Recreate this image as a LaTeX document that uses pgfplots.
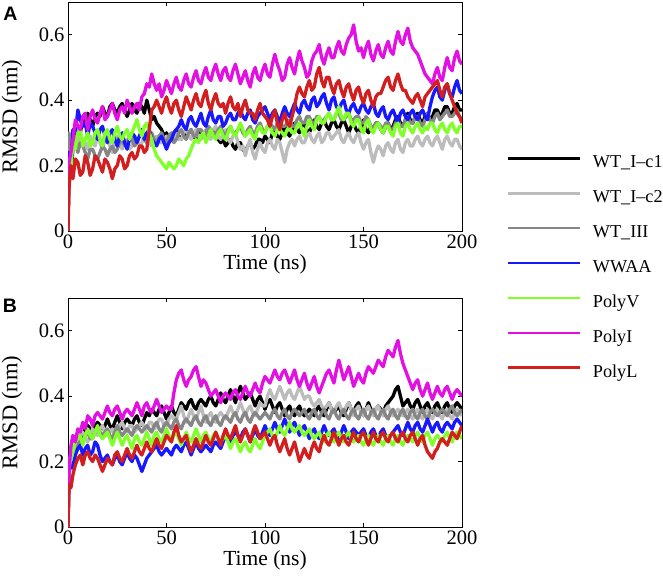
\documentclass[border=0pt]{standalone}
\usepackage{pgfplots}
\pgfplotsset{compat=1.18}
\usepackage{pgfplotstable}
\usepackage{fontspec}
\setmainfont{Liberation Serif}
\newfontfamily\panelfont{Liberation Sans}
\definecolor{cC1}{RGB}{0,0,0}
\definecolor{cC2}{RGB}{188,188,188}
\definecolor{cIII}{RGB}{134,134,134}
\definecolor{cWW}{RGB}{24,24,255}
\definecolor{cV}{RGB}{128,255,40}
\definecolor{cI}{RGB}{226,16,226}
\definecolor{cL}{RGB}{210,30,30}

\pgfplotstableread{
t c1 c2 iii ww v i l
0 0 0 0 0 0 0 0
0.5 0.21 0.29 0.30 0.24 0.22 0.21 0.13
1.5 0.18 0.26 0.27 0.20 0.19 0.24 0.20
2.5 0.25 0.30 0.28 0.31 0.27 0.28 0.16
3.75 0.31 0.25 0.29 0.30 0.25 0.34 0.22
5 0.29 0.26 0.24 0.37 0.30 0.32 0.21
6.25 0.30 0.29 0.27 0.34 0.31 0.31 0.17
7.5 0.34 0.28 0.26 0.32 0.26 0.35 0.18
8.75 0.32 0.27 0.24 0.33 0.28 0.36 0.23
10 0.36 0.25 0.22 0.29 0.30 0.31 0.21
11.25 0.34 0.29 0.25 0.33 0.26 0.35 0.17
12.5 0.32 0.27 0.25 0.32 0.27 0.37 0.19
13.75 0.35 0.26 0.23 0.30 0.30 0.34 0.23
15 0.36 0.29 0.22 0.28 0.31 0.33 0.22
16.25 0.35 0.27 0.24 0.31 0.28 0.36 0.20
17.5 0.38 0.25 0.26 0.32 0.26 0.38 0.18
18.75 0.36 0.28 0.25 0.29 0.30 0.34 0.22
20 0.35 0.28 0.23 0.27 0.31 0.35 0.21
21.25 0.38 0.26 0.25 0.30 0.28 0.37 0.19
22.5 0.39 0.24 0.26 0.31 0.27 0.39 0.16
23.75 0.37 0.27 0.24 0.28 0.30 0.36 0.19
25 0.36 0.29 0.25 0.26 0.32 0.34 0.20
26.25 0.38 0.27 0.27 0.29 0.29 0.37 0.23
27.5 0.39 0.25 0.28 0.30 0.28 0.38 0.22
28.75 0.37 0.27 0.26 0.27 0.30 0.36 0.19
30 0.35 0.28 0.27 0.25 0.31 0.40 0.20
31.25 0.37 0.25 0.29 0.28 0.28 0.38 0.23
32.5 0.39 0.26 0.28 0.30 0.30 0.36 0.24
33.75 0.37 0.29 0.26 0.29 0.32 0.38 0.22
35 0.36 0.28 0.27 0.27 0.34 0.39 0.23
36.25 0.39 0.26 0.29 0.29 0.31 0.37 0.26
37.5 0.38 0.27 0.30 0.31 0.29 0.41 0.26
38.75 0.36 0.29 0.28 0.28 0.32 0.42 0.24
40 0.40 0.29 0.27 0.30 0.33 0.45 0.25
41.25 0.37 0.27 0.29 0.31 0.30 0.44 0.31
42.5 0.34 0.26 0.30 0.28 0.28 0.48 0.37
43.75 0.35 0.28 0.28 0.27 0.25 0.45 0.38
45 0.33 0.29 0.27 0.26 0.23 0.43 0.40
46.25 0.32 0.27 0.29 0.28 0.22 0.45 0.38
47.5 0.31 0.27 0.30 0.29 0.21 0.41 0.36
48.75 0.29 0.28 0.28 0.27 0.20 0.43 0.39
50 0.30 0.29 0.27 0.25 0.19 0.46 0.41
51.25 0.28 0.27 0.29 0.27 0.21 0.44 0.38
52.5 0.29 0.28 0.30 0.28 0.20 0.42 0.36
53.75 0.30 0.29 0.27 0.30 0.19 0.45 0.39
55 0.31 0.30 0.28 0.31 0.20 0.47 0.40
56.25 0.29 0.28 0.30 0.32 0.22 0.44 0.37
57.5 0.28 0.28 0.31 0.34 0.21 0.43 0.35
58.75 0.30 0.30 0.29 0.32 0.20 0.46 0.38
60 0.29 0.31 0.28 0.31 0.22 0.48 0.41
61.25 0.30 0.29 0.30 0.34 0.23 0.45 0.39
62.5 0.31 0.28 0.31 0.35 0.25 0.44 0.37
63.75 0.29 0.30 0.29 0.33 0.27 0.47 0.40
65 0.28 0.31 0.29 0.32 0.28 0.49 0.42
66.25 0.31 0.29 0.31 0.34 0.27 0.46 0.39
67.5 0.30 0.28 0.31 0.36 0.29 0.45 0.38
68.75 0.29 0.30 0.29 0.33 0.30 0.48 0.41
70 0.28 0.31 0.30 0.32 0.27 0.50 0.43
71.25 0.30 0.29 0.32 0.35 0.29 0.47 0.39
72.5 0.29 0.28 0.31 0.37 0.31 0.46 0.37
73.75 0.31 0.31 0.30 0.34 0.29 0.49 0.40
75 0.30 0.32 0.29 0.33 0.28 0.51 0.42
76.25 0.28 0.29 0.31 0.35 0.30 0.48 0.39
77.5 0.27 0.28 0.32 0.35 0.31 0.46 0.38
78.75 0.28 0.30 0.30 0.32 0.29 0.49 0.39
80 0.26 0.31 0.29 0.33 0.28 0.50 0.36
81.25 0.27 0.28 0.31 0.35 0.30 0.47 0.39
82.5 0.28 0.27 0.32 0.36 0.32 0.46 0.41
83.75 0.26 0.29 0.30 0.34 0.30 0.49 0.38
85 0.25 0.30 0.30 0.34 0.29 0.51 0.37
86.25 0.27 0.27 0.31 0.36 0.31 0.48 0.39
87.5 0.27 0.25 0.32 0.37 0.33 0.45 0.35
88.75 0.25 0.26 0.30 0.35 0.31 0.47 0.38
90 0.24 0.23 0.29 0.34 0.29 0.49 0.40
91.25 0.26 0.26 0.31 0.36 0.30 0.46 0.37
92.5 0.27 0.28 0.32 0.37 0.31 0.44 0.36
93.75 0.25 0.24 0.30 0.34 0.29 0.48 0.36
95 0.26 0.22 0.30 0.33 0.28 0.50 0.34
96.25 0.28 0.25 0.32 0.35 0.31 0.47 0.37
97.5 0.28 0.27 0.33 0.36 0.32 0.46 0.39
98.75 0.27 0.25 0.31 0.37 0.30 0.49 0.36
100 0.29 0.24 0.30 0.38 0.30 0.51 0.35
101.25 0.28 0.27 0.32 0.36 0.32 0.48 0.34
102.5 0.27 0.28 0.33 0.34 0.32 0.47 0.32
103.75 0.30 0.26 0.32 0.36 0.30 0.51 0.35
105 0.31 0.25 0.31 0.37 0.29 0.54 0.37
106.25 0.29 0.28 0.33 0.35 0.31 0.51 0.33
107.5 0.28 0.27 0.34 0.33 0.31 0.49 0.31
108.75 0.30 0.24 0.32 0.36 0.30 0.46 0.34
110 0.32 0.21 0.32 0.38 0.29 0.47 0.36
111.25 0.30 0.25 0.33 0.36 0.31 0.51 0.33
112.5 0.29 0.27 0.34 0.35 0.32 0.53 0.32
113.75 0.31 0.28 0.32 0.37 0.30 0.50 0.35
115 0.33 0.26 0.32 0.39 0.30 0.48 0.38
116.25 0.31 0.28 0.34 0.37 0.32 0.52 0.42
117.5 0.30 0.29 0.35 0.36 0.33 0.55 0.44
118.75 0.32 0.27 0.33 0.39 0.31 0.52 0.42
120 0.33 0.27 0.33 0.40 0.29 0.50 0.41
121.25 0.31 0.29 0.35 0.38 0.32 0.47 0.44
122.5 0.30 0.30 0.35 0.37 0.34 0.48 0.46
123.75 0.32 0.28 0.33 0.40 0.32 0.52 0.43
125 0.34 0.27 0.33 0.41 0.31 0.54 0.44
126.25 0.32 0.29 0.35 0.38 0.34 0.55 0.48
127.5 0.31 0.30 0.35 0.39 0.35 0.57 0.50
128.75 0.33 0.27 0.33 0.41 0.33 0.53 0.46
130 0.34 0.28 0.34 0.42 0.33 0.51 0.44
131.25 0.32 0.30 0.35 0.39 0.35 0.54 0.47
132.5 0.31 0.30 0.36 0.37 0.36 0.56 0.47
133.75 0.33 0.28 0.34 0.40 0.34 0.53 0.44
135 0.34 0.29 0.34 0.41 0.34 0.53 0.42
136.25 0.32 0.30 0.36 0.38 0.36 0.56 0.45
137.5 0.31 0.31 0.36 0.37 0.38 0.58 0.46
138.75 0.33 0.28 0.34 0.39 0.35 0.55 0.43
140 0.34 0.27 0.34 0.40 0.34 0.54 0.41
141.25 0.32 0.29 0.35 0.37 0.36 0.57 0.44
142.5 0.30 0.30 0.36 0.36 0.36 0.59 0.45
143.75 0.32 0.28 0.34 0.38 0.33 0.60 0.42
145 0.33 0.27 0.34 0.39 0.32 0.63 0.40
146.25 0.31 0.29 0.35 0.37 0.34 0.58 0.43
147.5 0.30 0.30 0.35 0.36 0.34 0.55 0.44
148.75 0.32 0.27 0.33 0.38 0.31 0.56 0.41
150 0.34 0.25 0.33 0.39 0.30 0.53 0.39
151.25 0.31 0.27 0.35 0.37 0.33 0.56 0.42
152.5 0.30 0.28 0.34 0.36 0.34 0.58 0.43
153.75 0.32 0.24 0.32 0.38 0.31 0.54 0.40
155 0.31 0.21 0.31 0.39 0.30 0.52 0.38
156.25 0.33 0.24 0.33 0.36 0.32 0.55 0.41
157.5 0.33 0.26 0.33 0.35 0.33 0.57 0.42
158.75 0.31 0.25 0.32 0.37 0.31 0.54 0.42
160 0.30 0.23 0.31 0.38 0.30 0.53 0.44
161.25 0.32 0.26 0.33 0.35 0.32 0.56 0.46
162.5 0.33 0.27 0.33 0.34 0.32 0.58 0.47
163.75 0.31 0.25 0.31 0.36 0.30 0.55 0.44
165 0.32 0.24 0.31 0.37 0.29 0.54 0.43
166.25 0.34 0.27 0.33 0.35 0.32 0.58 0.46
167.5 0.35 0.28 0.34 0.33 0.33 0.61 0.48
168.75 0.33 0.25 0.32 0.36 0.30 0.58 0.45
170 0.32 0.24 0.32 0.37 0.29 0.57 0.43
171.25 0.34 0.27 0.34 0.35 0.32 0.60 0.43
172.5 0.36 0.28 0.35 0.34 0.33 0.62 0.41
173.75 0.34 0.26 0.33 0.36 0.31 0.58 0.40
175 0.33 0.26 0.33 0.37 0.30 0.56 0.39
176.25 0.35 0.28 0.35 0.35 0.32 0.55 0.41
177.5 0.36 0.29 0.35 0.34 0.33 0.54 0.42
178.75 0.34 0.27 0.33 0.36 0.31 0.52 0.40
180 0.33 0.26 0.32 0.37 0.30 0.50 0.38
181.25 0.35 0.28 0.34 0.35 0.32 0.48 0.41
182.5 0.36 0.29 0.36 0.34 0.31 0.47 0.42
183.75 0.34 0.27 0.34 0.38 0.33 0.46 0.43
185 0.35 0.26 0.33 0.41 0.33 0.45 0.44
186.25 0.37 0.28 0.35 0.43 0.31 0.48 0.45
187.5 0.37 0.29 0.36 0.44 0.30 0.50 0.46
188.75 0.35 0.27 0.34 0.41 0.32 0.47 0.43
190 0.36 0.25 0.35 0.40 0.33 0.46 0.41
191.25 0.38 0.28 0.36 0.43 0.31 0.50 0.44
192.5 0.38 0.29 0.37 0.45 0.30 0.53 0.45
193.75 0.36 0.27 0.35 0.42 0.32 0.50 0.42
195 0.36 0.26 0.35 0.41 0.33 0.49 0.40
196.25 0.38 0.28 0.36 0.44 0.31 0.53 0.38
197.5 0.39 0.28 0.37 0.46 0.30 0.55 0.36
198.75 0.37 0.26 0.35 0.43 0.32 0.52 0.35
200 0.37 0.25 0.34 0.42 0.32 0.51 0.33
}\dataA

\pgfplotstableread{
t c1 c2 iii ww v i l
0 0 0 0 0 0 0 0
0.5 0.17 0.19 0.18 0.16 0.18 0.17 0.13
1.5 0.22 0.23 0.21 0.20 0.21 0.25 0.12
2.5 0.24 0.26 0.25 0.18 0.23 0.28 0.16
3.75 0.27 0.24 0.23 0.22 0.26 0.26 0.19
5 0.29 0.27 0.27 0.24 0.27 0.30 0.21
6.25 0.27 0.29 0.25 0.25 0.28 0.29 0.22
7.5 0.28 0.29 0.26 0.22 0.25 0.32 0.19
8.75 0.30 0.27 0.28 0.24 0.28 0.30 0.22
10 0.31 0.26 0.29 0.25 0.30 0.34 0.23
11.25 0.30 0.28 0.27 0.22 0.28 0.33 0.21
12.5 0.29 0.30 0.27 0.23 0.27 0.31 0.20
13.75 0.31 0.29 0.29 0.26 0.29 0.34 0.22
15 0.32 0.28 0.30 0.25 0.31 0.35 0.21
16.25 0.31 0.30 0.29 0.22 0.28 0.34 0.19
17.5 0.30 0.31 0.28 0.20 0.27 0.33 0.17
18.75 0.31 0.29 0.29 0.21 0.28 0.35 0.19
20 0.33 0.28 0.30 0.22 0.29 0.37 0.21
21.25 0.31 0.29 0.28 0.20 0.27 0.35 0.20
22.5 0.30 0.30 0.27 0.19 0.25 0.34 0.19
23.75 0.32 0.28 0.29 0.21 0.27 0.36 0.22
25 0.34 0.29 0.31 0.22 0.29 0.37 0.23
26.25 0.32 0.31 0.29 0.20 0.27 0.35 0.21
27.5 0.30 0.32 0.28 0.19 0.25 0.33 0.20
28.75 0.32 0.30 0.29 0.21 0.27 0.35 0.22
30 0.33 0.29 0.30 0.23 0.28 0.36 0.24
31.25 0.32 0.31 0.29 0.21 0.26 0.35 0.22
32.5 0.31 0.31 0.28 0.20 0.24 0.34 0.21
33.75 0.33 0.29 0.30 0.22 0.27 0.36 0.23
35 0.34 0.30 0.31 0.21 0.28 0.38 0.25
36.25 0.32 0.31 0.30 0.19 0.26 0.36 0.23
37.5 0.31 0.32 0.29 0.17 0.25 0.34 0.22
38.75 0.33 0.30 0.30 0.19 0.27 0.37 0.24
40 0.35 0.30 0.31 0.21 0.29 0.38 0.26
41.25 0.34 0.32 0.30 0.22 0.27 0.36 0.24
42.5 0.36 0.32 0.29 0.23 0.25 0.35 0.23
43.75 0.35 0.30 0.31 0.24 0.28 0.37 0.25
45 0.34 0.31 0.32 0.25 0.29 0.39 0.27
46.25 0.36 0.33 0.30 0.23 0.27 0.37 0.25
47.5 0.37 0.33 0.29 0.22 0.26 0.35 0.24
48.75 0.35 0.31 0.31 0.23 0.28 0.36 0.26
50 0.33 0.31 0.32 0.24 0.30 0.37 0.28
51.25 0.35 0.33 0.31 0.23 0.28 0.36 0.27
52.5 0.37 0.34 0.30 0.22 0.26 0.36 0.26
53.75 0.35 0.33 0.32 0.24 0.28 0.41 0.29
55 0.34 0.33 0.33 0.25 0.29 0.45 0.31
56.25 0.36 0.35 0.31 0.24 0.27 0.47 0.28
57.5 0.38 0.37 0.30 0.23 0.25 0.48 0.26
58.75 0.37 0.34 0.32 0.25 0.27 0.45 0.27
60 0.36 0.32 0.33 0.26 0.29 0.43 0.28
61.25 0.38 0.34 0.32 0.24 0.27 0.45 0.25
62.5 0.39 0.36 0.31 0.22 0.26 0.46 0.23
63.75 0.37 0.34 0.33 0.24 0.28 0.48 0.25
65 0.36 0.33 0.34 0.26 0.30 0.49 0.27
66.25 0.38 0.35 0.32 0.24 0.28 0.46 0.25
67.5 0.39 0.37 0.31 0.23 0.26 0.43 0.24
68.75 0.38 0.34 0.33 0.24 0.28 0.45 0.26
70 0.37 0.32 0.34 0.25 0.29 0.44 0.28
71.25 0.39 0.34 0.32 0.24 0.27 0.42 0.26
72.5 0.40 0.35 0.31 0.23 0.26 0.40 0.25
73.75 0.38 0.33 0.33 0.25 0.28 0.41 0.27
75 0.37 0.32 0.34 0.26 0.29 0.42 0.29
76.25 0.39 0.34 0.32 0.25 0.27 0.40 0.27
77.5 0.41 0.35 0.31 0.24 0.26 0.38 0.25
78.75 0.39 0.34 0.33 0.26 0.27 0.40 0.28
80 0.38 0.33 0.34 0.28 0.28 0.41 0.30
81.25 0.40 0.35 0.33 0.27 0.26 0.40 0.28
82.5 0.42 0.37 0.32 0.26 0.24 0.39 0.27
83.75 0.40 0.35 0.34 0.28 0.26 0.41 0.29
85 0.38 0.34 0.35 0.29 0.27 0.42 0.31
86.25 0.41 0.36 0.33 0.28 0.25 0.40 0.28
87.5 0.43 0.38 0.32 0.27 0.23 0.39 0.26
88.75 0.41 0.36 0.34 0.29 0.25 0.41 0.28
90 0.39 0.34 0.35 0.30 0.26 0.43 0.30
91.25 0.40 0.36 0.33 0.28 0.24 0.41 0.28
92.5 0.41 0.37 0.32 0.26 0.23 0.40 0.26
93.75 0.39 0.35 0.34 0.28 0.25 0.42 0.29
95 0.37 0.34 0.35 0.30 0.27 0.44 0.31
96.25 0.39 0.36 0.34 0.28 0.25 0.42 0.29
97.5 0.40 0.38 0.33 0.27 0.24 0.41 0.27
98.75 0.38 0.37 0.34 0.29 0.26 0.44 0.28
100 0.36 0.37 0.35 0.31 0.28 0.46 0.29
101.25 0.38 0.40 0.34 0.29 0.29 0.45 0.27
102.5 0.39 0.42 0.33 0.28 0.30 0.44 0.25
103.75 0.37 0.40 0.35 0.30 0.28 0.46 0.27
105 0.35 0.39 0.36 0.32 0.27 0.48 0.28
106.25 0.37 0.41 0.34 0.30 0.29 0.46 0.25
107.5 0.38 0.43 0.33 0.29 0.31 0.45 0.23
108.75 0.36 0.41 0.35 0.31 0.29 0.47 0.25
110 0.34 0.39 0.36 0.33 0.28 0.48 0.27
111.25 0.36 0.41 0.34 0.31 0.30 0.46 0.24
112.5 0.37 0.42 0.33 0.29 0.32 0.44 0.22
113.75 0.35 0.40 0.35 0.31 0.30 0.46 0.24
115 0.34 0.39 0.36 0.32 0.29 0.48 0.26
116.25 0.36 0.41 0.35 0.30 0.30 0.45 0.23
117.5 0.37 0.43 0.34 0.28 0.31 0.43 0.20
118.75 0.35 0.41 0.35 0.30 0.29 0.45 0.22
120 0.34 0.39 0.36 0.31 0.28 0.47 0.24
121.25 0.35 0.40 0.34 0.29 0.29 0.44 0.22
122.5 0.36 0.40 0.33 0.27 0.30 0.42 0.21
123.75 0.35 0.38 0.35 0.29 0.28 0.44 0.24
125 0.34 0.37 0.36 0.30 0.27 0.46 0.26
126.25 0.36 0.38 0.34 0.28 0.28 0.43 0.24
127.5 0.37 0.39 0.33 0.27 0.29 0.41 0.23
128.75 0.35 0.37 0.35 0.29 0.27 0.43 0.26
130 0.34 0.36 0.36 0.31 0.26 0.45 0.28
131.25 0.36 0.37 0.34 0.29 0.28 0.47 0.26
132.5 0.38 0.38 0.33 0.28 0.29 0.48 0.25
133.75 0.36 0.36 0.35 0.29 0.27 0.46 0.27
135 0.35 0.35 0.36 0.30 0.26 0.44 0.29
136.25 0.36 0.37 0.34 0.28 0.28 0.48 0.27
137.5 0.37 0.38 0.33 0.27 0.29 0.51 0.25
138.75 0.35 0.36 0.35 0.29 0.27 0.48 0.27
140 0.34 0.35 0.36 0.31 0.26 0.45 0.28
141.25 0.36 0.37 0.34 0.29 0.28 0.47 0.26
142.5 0.38 0.38 0.33 0.27 0.29 0.49 0.25
143.75 0.36 0.36 0.35 0.29 0.27 0.46 0.27
145 0.35 0.34 0.36 0.30 0.26 0.43 0.29
146.25 0.37 0.36 0.34 0.29 0.27 0.45 0.27
147.5 0.38 0.37 0.33 0.28 0.28 0.47 0.26
148.75 0.36 0.35 0.35 0.29 0.26 0.45 0.28
150 0.34 0.34 0.36 0.30 0.25 0.44 0.29
151.25 0.36 0.36 0.34 0.28 0.27 0.47 0.27
152.5 0.38 0.37 0.33 0.27 0.28 0.49 0.25
153.75 0.36 0.35 0.35 0.29 0.26 0.48 0.27
155 0.35 0.34 0.36 0.30 0.25 0.47 0.29
156.25 0.36 0.36 0.34 0.28 0.27 0.49 0.27
157.5 0.37 0.37 0.33 0.27 0.28 0.51 0.26
158.75 0.36 0.35 0.35 0.29 0.26 0.50 0.28
160 0.35 0.34 0.36 0.30 0.25 0.49 0.29
161.25 0.37 0.36 0.34 0.28 0.27 0.52 0.27
162.5 0.38 0.37 0.33 0.27 0.28 0.54 0.26
163.75 0.39 0.35 0.35 0.28 0.26 0.53 0.28
165 0.40 0.34 0.36 0.29 0.25 0.52 0.29
166.25 0.42 0.35 0.34 0.30 0.27 0.55 0.27
167.5 0.43 0.36 0.33 0.31 0.28 0.57 0.26
168.75 0.40 0.35 0.35 0.29 0.26 0.53 0.28
170 0.37 0.34 0.36 0.28 0.25 0.50 0.29
171.25 0.38 0.35 0.34 0.30 0.27 0.48 0.27
172.5 0.39 0.36 0.33 0.32 0.28 0.46 0.26
173.75 0.37 0.34 0.35 0.30 0.27 0.44 0.28
175 0.36 0.33 0.36 0.29 0.26 0.42 0.29
176.25 0.38 0.35 0.34 0.31 0.28 0.44 0.27
177.5 0.39 0.36 0.33 0.32 0.29 0.45 0.25
178.75 0.37 0.34 0.35 0.30 0.27 0.42 0.27
180 0.35 0.33 0.36 0.29 0.26 0.40 0.28
181.25 0.37 0.35 0.34 0.31 0.28 0.42 0.25
182.5 0.38 0.36 0.33 0.33 0.29 0.44 0.23
183.75 0.36 0.34 0.35 0.31 0.27 0.41 0.22
185 0.35 0.33 0.36 0.29 0.25 0.39 0.21
186.25 0.37 0.35 0.35 0.31 0.27 0.41 0.23
187.5 0.38 0.36 0.34 0.32 0.28 0.43 0.24
188.75 0.36 0.34 0.35 0.30 0.27 0.41 0.26
190 0.35 0.33 0.36 0.29 0.26 0.40 0.27
191.25 0.37 0.35 0.35 0.31 0.28 0.42 0.26
192.5 0.38 0.36 0.34 0.32 0.29 0.43 0.25
193.75 0.36 0.34 0.36 0.31 0.27 0.41 0.27
195 0.35 0.33 0.37 0.30 0.26 0.39 0.29
196.25 0.37 0.35 0.35 0.32 0.28 0.41 0.28
197.5 0.38 0.36 0.34 0.33 0.29 0.42 0.27
198.75 0.37 0.35 0.35 0.32 0.28 0.41 0.29
200 0.36 0.34 0.36 0.31 0.27 0.40 0.31
}\dataB

\pgfplotsset{
  rmsdaxis/.style={
    scale only axis, width=394pt, height=229pt,
    xmin=0, xmax=200, ymin=0, ymax=0.7,
    xtick={0,50,100,150,200}, ytick={0,0.2,0.4,0.6},
    tick align=inside, major tick length=4pt,
    tick style={black, line width=0.6pt},
    axis line style={black, line width=0.7pt},
    ticklabel style={font=\fontsize{20.5}{24}\selectfont},
    /pgf/number format/assume math mode=true,
    xlabel={Time (ns)}, ylabel={RMSD (nm)},
    xlabel style={font=\fontsize{21.5}{25}\selectfont, at={(axis description cs:0.5,-0.144)}, anchor=center},
    ylabel style={font=\fontsize{22.5}{26}\selectfont, at={(axis description cs:-0.142,0.5)}, anchor=center},
    every axis plot/.append style={line width=3.3pt, line join=round},
    clip=true,
  }
}

\begin{document}
\begin{tikzpicture}[x=1pt,y=1pt]
\path[use as bounding box] (0,0) rectangle (663,-586);

\begin{axis}[rmsdaxis, at={(68pt,-2pt)}, anchor=north west,
  legend style={at={(1.112,-0.162)}, anchor=west, draw=none, fill=none,
    inner sep=0pt, row sep=17.9pt, column sep=0pt,
    font=\fontsize{18.2}{21}\selectfont,
    nodes={inner sep=0pt, text height=13pt, text depth=4pt},
    cells={anchor=west}},
  legend image code/.code={\draw[#1, line width=2.6pt] (0pt,5pt) -- (72pt,5pt);},
  legend cell align=left]
\addplot[cC1] table[x=t, y=c1] {\dataA};
\addplot[cC2] table[x=t, y=c2] {\dataA};
\addplot[cIII] table[x=t, y=iii] {\dataA};
\addplot[cWW] table[x=t, y=ww] {\dataA};
\addplot[cV] table[x=t, y=v] {\dataA};
\addplot[cI] table[x=t, y=i] {\dataA};
\addplot[cL] table[x=t, y=l] {\dataA};
\legend{\hspace{12pt}WT\_I--c1,\hspace{12pt}WT\_I--c2,\hspace{12pt}WT\_III,\hspace{12pt}WWAA,\hspace{12pt}PolyV,\hspace{12pt}PolyI,\hspace{12pt}PolyL}
\end{axis}

\begin{axis}[rmsdaxis, at={(68pt,-298pt)}, anchor=north west]
\addplot[cC1] table[x=t, y=c1] {\dataB};
\addplot[cC2] table[x=t, y=c2] {\dataB};
\addplot[cIII] table[x=t, y=iii] {\dataB};
\addplot[cWW] table[x=t, y=ww] {\dataB};
\addplot[cV] table[x=t, y=v] {\dataB};
\addplot[cI] table[x=t, y=i] {\dataB};
\addplot[cL] table[x=t, y=l] {\dataB};
\end{axis}

\node[font=\panelfont\bfseries\fontsize{19.5}{22}\selectfont, inner sep=0pt] at (10.5,-14) {A};
\node[font=\panelfont\bfseries\fontsize{19.5}{22}\selectfont, inner sep=0pt] at (10,-306) {B};
\end{tikzpicture}
\end{document}
